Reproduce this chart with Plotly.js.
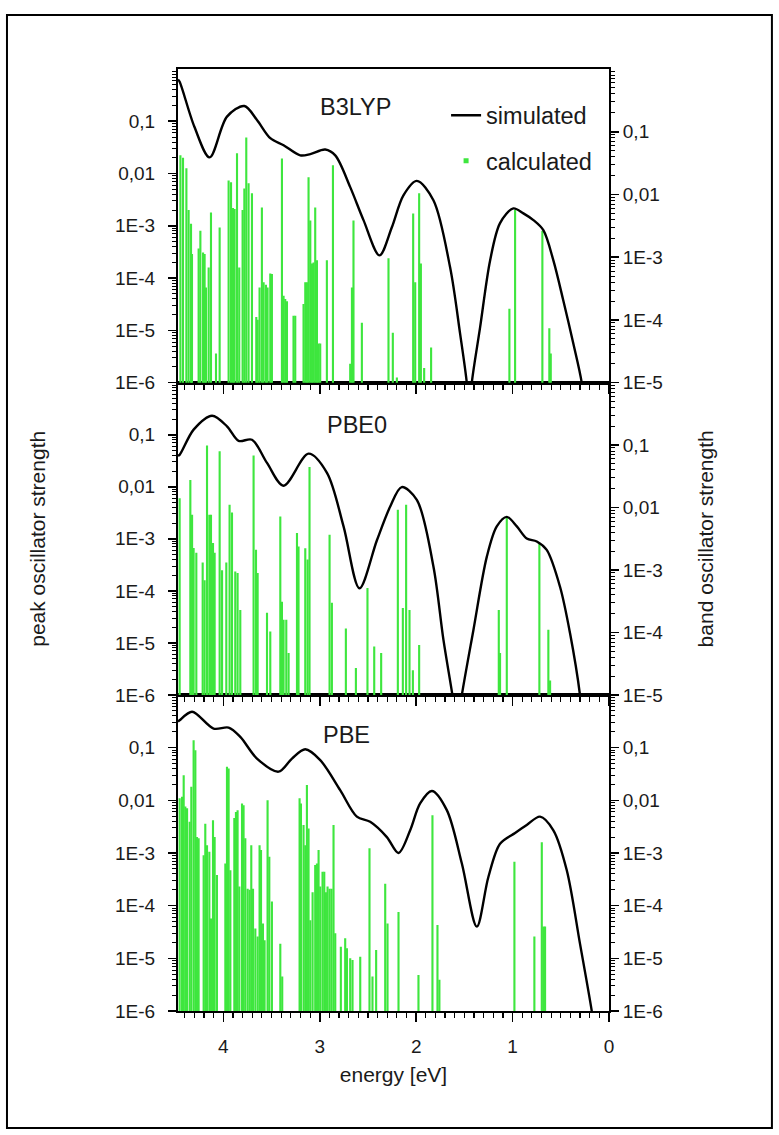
<!DOCTYPE html>
<html>
<head>
<meta charset="utf-8">
<script src="https://cdn.plot.ly/plotly-3.0.1.min.js"></script>
<style>
html,body{margin:0;padding:0;background:#ffffff;}
#chart{width:779px;height:1135px;}
</style>
</head>
<body>
<div id="chart"></div>
<script>
// ---------- DATA ----------
const panelNames = ["B3LYP", "PBE0", "PBE"];
const legendNames = ["simulated", "calculated"];

// calculated transitions (energy in eV, peak oscillator strength)
const b3lypStickE = [4.445,4.418,4.383,4.36,4.335,4.325,4.256,4.238,4.21,4.194,4.18,4.152,4.128,4.076,4.038,3.945,3.92,3.90,3.883,3.858,3.835,3.80,3.782,3.762,3.738,3.703,3.658,3.644,3.624,3.60,3.582,3.558,3.541,3.513,3.496,3.392,3.375,3.358,3.34,3.272,3.254,3.168,3.15,3.133,3.116,3.098,3.081,3.064,3.047,3.029,3.012,2.995,2.926,2.863,2.684,2.666,2.65,2.563,2.287,2.242,2.20,2.031,2.01,1.969,1.951,1.917,1.845,1.033,0.974,0.691,0.619,0.604];
const b3lypStickF = [2.24e-2,2.0e-2,1.26e-2,2.0e-3,1.1e-3,2.9e-4,3.7e-4,8.1e-4,3.1e-4,2.9e-4,6.6e-5,1.6e-4,1.8e-3,3.6e-6,9.3e-4,7.4e-3,6.8e-3,2.2e-3,2.1e-3,2.45e-2,1.6e-4,2.0e-3,5.2e-3,4.9e-2,6.5e-3,4.2e-3,1.8e-5,1.6e-5,6.6e-5,2.24e-3,8.3e-5,7.5e-5,6.6e-5,1.23e-4,1.2e-4,1.95e-2,4.6e-5,4.0e-5,3.6e-5,1.9e-5,1.9e-5,3.2e-5,8.3e-5,8.3e-5,8.5e-3,1.26e-3,1.9e-4,2.0e-4,2.24e-3,2.2e-4,5.6e-6,5.6e-6,2.2e-4,1.44e-2,2.3e-6,6.6e-5,1.26e-3,1.4e-5,2.4e-4,9.0e-6,1.25e-6,1.73e-3,8.3e-5,4.2e-3,1.9e-4,1.9e-6,4.7e-6,2.6e-5,2.0e-3,8.1e-4,1.1e-5,3.6e-6];

const pbe0StickE = [4.453,4.342,4.324,4.308,4.28,4.214,4.194,4.169,4.145,4.128,4.107,4.09,4.038,4.013,3.969,3.935,3.91,3.876,3.852,3.824,3.686,3.661,3.644,3.547,3.513,3.409,3.392,3.375,3.347,3.323,3.236,3.22,3.15,3.126,3.106,2.898,2.874,2.729,2.625,2.505,2.435,2.363,2.19,2.138,2.104,2.069,2.034,1.969,1.143,1.13,1.06,0.722,0.629,0.611];
const pbe0StickF = [6.0e-3,1.35e-2,2.9e-3,6.7e-4,5.4e-4,3.5e-4,1.6e-4,6.2e-2,2.9e-3,2.9e-3,8.3e-4,5.4e-4,4.8e-2,2.5e-4,3.5e-4,4.5e-3,3.2e-3,2.35e-4,2.2e-4,4.3e-5,4.0e-2,6.2e-4,2.2e-4,3.8e-5,1.65e-5,2.7e-3,6.2e-5,2.8e-5,2.8e-5,6.4e-6,1.29e-3,7.1e-4,6.6e-4,4.0e-4,2.4e-2,1.2e-3,5.9e-5,1.9e-5,3.3e-6,1.13e-4,8.5e-6,6.4e-6,3.6e-3,4.7e-5,4.5e-3,4.3e-5,3.0e-6,9.1e-6,4.3e-5,6.4e-6,2.5e-3,8.3e-4,1.8e-5,1.9e-6];

const pbeStickE = [4.453,4.428,4.411,4.394,4.376,4.349,4.332,4.308,4.290,4.273,4.256,4.204,4.187,4.169,4.145,4.128,4.107,4.090,4.066,3.979,3.962,3.945,3.927,3.886,3.869,3.852,3.834,3.806,3.790,3.772,3.748,3.727,3.710,3.692,3.668,3.644,3.624,3.609,3.589,3.572,3.541,3.523,3.496,3.409,3.389,3.209,3.195,3.168,3.150,3.133,3.116,3.098,3.074,3.047,3.029,3.012,2.995,2.971,2.953,2.936,2.919,2.898,2.878,2.857,2.839,2.781,2.736,2.718,2.684,2.660,2.580,2.484,2.453,2.415,2.321,2.297,2.183,1.976,1.831,1.779,1.759,0.981,0.774,0.697,0.681,0.663];
const pbeStickF = [1.1e-2,1.17e-2,3.0e-2,7.6e-3,7.1e-3,3.9e-3,1.8e-2,1.38e-1,8.9e-2,2.0e-3,1.9e-3,9.1e-4,3.6e-3,1.4e-3,1.05e-3,5.7e-5,4.2e-3,2.0e-3,3.8e-4,6.3e-4,4.34e-2,4.0e-2,4.7e-4,4.6e-3,6.0e-3,6.5e-3,2.3e-4,8.7e-3,8.1e-3,1.9e-3,2.1e-4,2.0e-4,1.4e-3,2.1e-4,3.7e-5,2.6e-5,1.4e-3,1.14e-3,4.6e-5,2.2e-5,1.0e-2,8.5e-4,1.2e-4,1.9e-5,4.5e-6,1.1e-2,8.7e-3,3.4e-3,1.4e-3,1.95e-2,2.9e-3,5.3e-5,1.8e-4,5.9e-4,6.3e-4,1.14e-3,2.3e-4,4.4e-4,4.4e-4,1.8e-4,2.3e-4,2.1e-4,2.1e-4,3.4e-3,3.0e-5,1.66e-5,2.4e-5,1.55e-5,1.0e-5,9.3e-6,1.07e-5,1.23e-3,4.5e-6,1.44e-5,2.6e-4,4.6e-5,7.6e-5,4.8e-6,5.2e-3,4.3e-5,3.9e-6,6.8e-4,2.6e-5,1.6e-3,4.0e-5,4.0e-5];

// simulated spectra (energy in eV, band oscillator strength)
const b3lypCurveE = [4.47,4.453,4.30,4.142,3.962,3.782,3.651,3.513,3.375,3.202,3.098,2.943,2.839,2.684,2.546,2.380,2.252,2.132,1.993,1.821,1.648,1.544,1.475,1.45,1.423,1.337,1.233,1.130,0.992,0.888,0.784,0.681,0.577,0.474,0.370,0.283,0.25];
const b3lypCurveF = [0.68,0.627,0.12,0.039,0.174,0.257,0.154,0.079,0.061,0.042,0.044,0.052,0.042,0.0131,0.0039,0.00107,0.0030,0.0097,0.0165,0.0081,6.9e-4,6.0e-5,1.0e-5,3.0e-6,1.0e-5,7.6e-5,8.9e-4,3.5e-3,6.0e-3,5.0e-3,3.9e-3,2.7e-3,8.9e-4,2.04e-4,4.2e-5,1.0e-5,3.0e-6];

const pbe0CurveE = [4.47,4.453,4.308,4.117,3.962,3.841,3.703,3.547,3.375,3.116,2.925,2.753,2.588,2.407,2.269,2.15,1.993,1.821,1.717,1.624,1.575,1.526,1.406,1.267,1.164,1.060,0.956,0.853,0.749,0.646,0.508,0.404,0.301,0.27];
const pbe0CurveF = [0.068,0.070,0.177,0.296,0.20,0.117,0.122,0.052,0.0224,0.073,0.036,0.0050,5.1e-4,0.0030,0.0104,0.0213,0.0133,0.00114,7.6e-5,1.0e-5,3.0e-6,1.0e-5,1.1e-4,0.00164,0.0050,0.0071,0.0050,0.0032,0.00287,0.0021,5.4e-4,9.7e-5,1.0e-5,3.0e-6];

const pbeCurveE = [4.47,4.453,4.324,4.101,3.945,3.824,3.651,3.427,3.288,3.15,2.995,2.788,2.615,2.477,2.304,2.183,2.062,1.959,1.837,1.682,1.526,1.371,1.251,1.13,0.974,0.853,0.715,0.577,0.438,0.301,0.179,0.15];
const pbeCurveF = [0.31,0.33,0.48,0.23,0.24,0.16,0.062,0.035,0.062,0.093,0.058,0.0156,0.0049,0.0039,0.0020,0.0010,0.0027,0.0087,0.015,0.0065,6.3e-4,4.0e-5,3.5e-4,0.0015,0.0024,0.0034,0.0049,0.0027,4.7e-4,1.9e-5,1.0e-6,4.0e-7];

// tick labels
const xTickVals = [0,1,2,3,4];
const xTickText = ["0","1","2","3","4"];
const leftTickVals = [1e-6,1e-5,1e-4,1e-3,1e-2,1e-1];
const leftTickText = ["1E-6","1E-5","1E-4","1E-3","0,01","0,1"];
const rightTickValsTop = [1e-5,1e-4,1e-3,1e-2,1e-1];
const rightTickTextTop = ["1E-5","1E-4","1E-3","0,01","0,1"];
const rightTickValsBottom = [1e-6,1e-5,1e-4,1e-3,1e-2,1e-1];
const rightTickTextBottom = ["1E-6","1E-5","1E-4","1E-3","0,01","0,1"];

// ---------- STYLE ----------
const FONT = "Liberation Sans, Arial, Helvetica, sans-serif";
const TXT = "#1a1a1a";
const GREEN = "#3ee63e";

function logMinors(lo, hi) {
  const v = [];
  for (let d = lo; d < hi; d++) {
    for (let k = 2; k <= 9; k++) v.push(k * Math.pow(10, d));
  }
  return v;
}

function sticks(E, F, xa, ya) {
  return {type: "bar", x: E, y: F, width: 0.022, xaxis: xa, yaxis: ya,
          marker: {color: GREEN, line: {width: 0}}, showlegend: false, hoverinfo: "x+y"};
}
function curve(E, F, xa, ya, showLeg) {
  return {type: "scatter", mode: "lines", x: E, y: F, xaxis: xa, yaxis: ya,
          line: {color: "#000", width: 2.4, shape: "spline", smoothing: 0.9},
          name: legendNames[0], legendgroup: "sim", showlegend: showLeg};
}

const traces = [
  sticks(pbeStickE, pbeStickF, "x", "y"),
  curve(pbeCurveE, pbeCurveF, "x", "y2", false),
  sticks(pbe0StickE, pbe0StickF, "x2", "y3"),
  curve(pbe0CurveE, pbe0CurveF, "x2", "y4", false),
  sticks(b3lypStickE, b3lypStickF, "x3", "y5"),
  curve(b3lypCurveE, b3lypCurveF, "x3", "y6", true),
  {type: "scatter", mode: "markers", x: [null], y: [null], xaxis: "x3", yaxis: "y5",
   marker: {symbol: "square", size: 5, color: GREEN}, name: legendNames[1], legendgroup: "calc", showlegend: true}
];

const tickFont = {family: FONT, size: 19, color: TXT};
const titleFont = {family: FONT, size: 21, color: TXT};
const XR = [4.47, 0];

function xAxis(anchor, labels, title) {
  const a = {
    anchor: anchor, domain: [0, 1], range: XR, autorange: false,
    tickmode: "array", tickvals: xTickVals, ticktext: xTickText,
    showticklabels: labels, ticks: "outside", ticklen: 9, tickwidth: 1.6, tickcolor: "#000",
    ticklabelstandoff: 8,
    minor: {dtick: 0.1, tick0: 0, ticks: "outside", ticklen: 5, tickwidth: 1.2, tickcolor: "#000"},
    showline: true, mirror: true, linewidth: 2, linecolor: "#000",
    showgrid: false, zeroline: false, tickfont: tickFont, automargin: false
  };
  if (title) a.title = {text: title, font: titleFont, standoff: 12};
  return a;
}
function leftY(domain, anchor, title) {
  const a = {
    type: "log", domain: domain, anchor: anchor, range: [-6, 0], autorange: false,
    tickmode: "array", tickvals: leftTickVals, ticktext: leftTickText,
    ticks: "outside", ticklen: 8, tickwidth: 1.6, tickcolor: "#000",
    ticklabelstandoff: 9,
    minor: {tickmode: "array", tickvals: logMinors(-6, 0), ticks: "outside", ticklen: 4, tickwidth: 1, tickcolor: "#000"},
    showline: true, linewidth: 2, linecolor: "#000", showgrid: false, zeroline: false,
    tickfont: tickFont, automargin: false
  };
  if (title) a.title = {text: title, font: titleFont, standoff: 64};
  return a;
}
function rightY(over, anchor, lo, vals, text, title) {
  const a = {
    type: "log", overlaying: over, anchor: anchor, side: "right", range: [lo, 0], autorange: false,
    tickmode: "array", tickvals: vals, ticktext: text,
    ticks: "outside", ticklen: 8, tickwidth: 1.6, tickcolor: "#000",
    minor: {tickmode: "array", tickvals: logMinors(lo, 0), ticks: "outside", ticklen: 4, tickwidth: 1, tickcolor: "#000"},
    showline: true, linewidth: 2, linecolor: "#000", showgrid: false, zeroline: false,
    tickfont: tickFont, automargin: false
  };
  if (title) a.title = {text: title, font: titleFont, standoff: 36};
  return a;
}

const D3 = [0, 0.3355], D2 = [0.3355, 0.667], D1 = [0.667, 1];
const labelFont = {family: FONT, size: 23.5, color: TXT};

const layout = {
  width: 779, height: 1135,
  margin: {l: 178, r: 170, t: 69, b: 124, pad: 0},
  paper_bgcolor: "#ffffff", plot_bgcolor: "rgba(0,0,0,0)",
  font: {family: FONT, color: TXT},
  barmode: "overlay",
  showlegend: true,
  legend: {x: 0.622, y: 0.974, xanchor: "left", yanchor: "top", bgcolor: "rgba(0,0,0,0)",
           font: labelFont, tracegroupgap: 12, traceorder: "grouped", borderwidth: 0},
  xaxis: xAxis("y", true, "energy [eV]"),
  xaxis2: Object.assign(xAxis("y3", false), {matches: "x"}),
  xaxis3: Object.assign(xAxis("y5", false), {matches: "x"}),
  yaxis: leftY(D3, "x"),
  yaxis2: rightY("y", "x", -6, rightTickValsBottom, rightTickTextBottom),
  yaxis3: leftY(D2, "x2", "peak oscillator strength"),
  yaxis4: rightY("y3", "x2", -5, rightTickValsTop, rightTickTextTop, "band oscillator strength"),
  yaxis5: leftY(D1, "x3"),
  yaxis6: rightY("y5", "x3", -5, rightTickValsTop, rightTickTextTop),
  annotations: [
    {text: panelNames[0], xref: "paper", yref: "paper", x: 0.411, y: 0.9597, xanchor: "center", yanchor: "middle",
     showarrow: false, font: labelFont},
    {text: panelNames[1], xref: "paper", yref: "paper", x: 0.415, y: 0.622, xanchor: "center", yanchor: "middle",
     showarrow: false, font: labelFont},
    {text: panelNames[2], xref: "paper", yref: "paper", x: 0.392, y: 0.293, xanchor: "center", yanchor: "middle",
     showarrow: false, font: labelFont}
  ],
  shapes: [
    {type: "rect", xref: "paper", yref: "paper", x0: -0.3968, x1: 1.378, y0: -0.1242, y1: 1.0573,
     line: {color: "#000", width: 2}, fillcolor: "rgba(0,0,0,0)", layer: "below"}
  ]
};

Plotly.newPlot("chart", traces, layout, {displayModeBar: false, staticPlot: true});
</script>
</body>
</html>
